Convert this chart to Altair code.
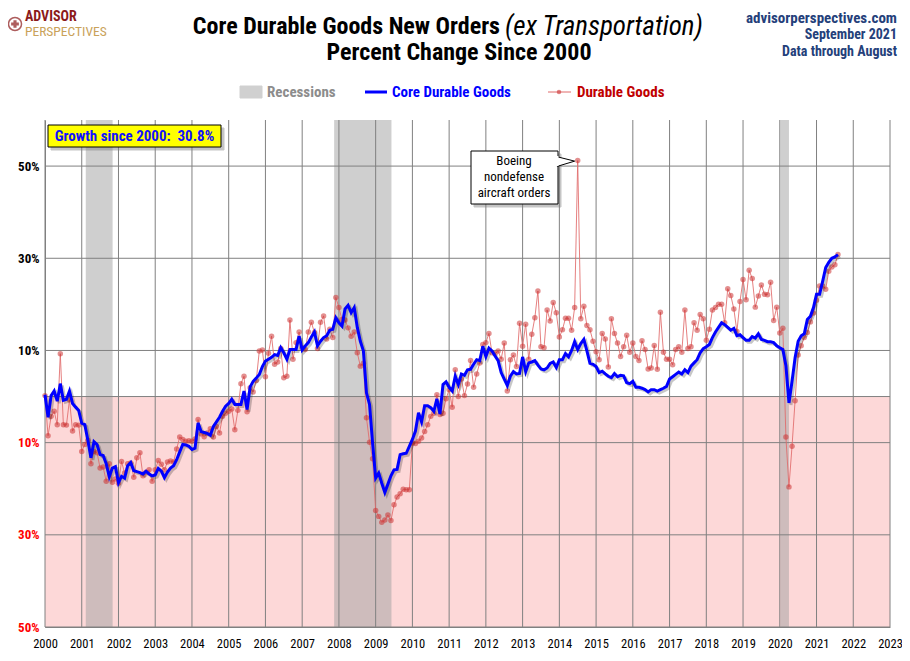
import altair as alt
import pandas as pd

# ---------------- data (percent change since Jan 2000, monthly) ----------------
core_vals = [
    0.4, -4.5, 0.2, 1.2, -1.0, 2.8, -0.8, -0.6, 1.2, -1.5, -2.3, -3.0,            # 2000
    -5.8, -6.1, -9.5, -13.3, -9.8, -10.4, -12.6, -12.8, -14.6, -17.4, -15.5, -15.2,  # 2001
    -18.7, -17.3, -17.7, -15.0, -14.3, -16.1, -16.3, -16.5, -16.8, -16.2, -16.8, -17.2,  # 2002
    -17.0, -15.6, -16.2, -17.6, -16.4, -15.5, -15.0, -13.7, -12.0, -10.4, -10.5, -10.8,  # 2003
    -11.5, -11.2, -5.7, -7.6, -7.8, -8.0, -8.4, -6.5, -5.5, -4.5, -3.2, -2.1,      # 2004
    -1.5, -0.6, -1.7, -1.7, -1.7, 1.2, -2.8, 2.1, 3.3, 4.0, 4.8, 6.5,              # 2005
    7.7, 8.1, 8.5, 9.1, 8.9, 10.6, 9.5, 8.1, 10.2, 10.2, 10.2, 13.1,               # 2006
    10.1, 11.0, 11.7, 12.9, 14.0, 11.0, 12.0, 12.8, 13.2, 14.4, 14.6, 17.1,        # 2007
    16.0, 15.3, 19.0, 19.8, 18.2, 19.3, 15.0, 12.0, 9.9, 0.8, -1.7, -10.1,         # 2008
    -17.7, -16.6, -18.8, -20.8, -19.0, -17.2, -15.9, -15.8, -12.6, -12.4, -12.3, -10.8,  # 2009
    -9.3, -7.5, -3.5, -5.5, -2.0, -2.0, -2.4, -3.2, -0.5, -3.8, 2.6, 3.2,          # 2010
    2.0, 1.2, 4.4, 2.6, 4.9, 4.6, 5.8, 5.9, 7.0, 8.0, 7.8, 10.9,                   # 2011
    8.7, 10.5, 9.9, 8.8, 7.8, 5.2, 3.8, 2.4, 4.4, 5.4, 4.9, 5.0,                   # 2012
    8.6, 5.4, 7.3, 7.5, 7.8, 6.8, 6.0, 5.8, 6.2, 7.2, 7.5, 6.3,                    # 2013
    8.0, 8.0, 9.3, 8.6, 10.0, 11.9, 10.2, 11.5, 12.4, 9.9, 7.2, 7.0,               # 2014
    6.5, 5.2, 5.5, 4.9, 4.4, 4.1, 5.0, 4.3, 4.6, 4.5, 3.0, 2.8,                    # 2015
    3.3, 2.0, 2.0, 1.8, 1.5, 1.0, 1.5, 1.5, 1.2, 1.5, 1.8, 2.2,                    # 2016
    3.8, 4.3, 4.8, 5.3, 4.9, 5.8, 5.2, 6.6, 7.3, 8.0, 9.5, 10.4,                   # 2017
    10.8, 11.3, 12.8, 14.0, 15.0, 16.0, 15.6, 15.0, 14.4, 14.8, 13.2, 13.4,        # 2018
    12.8, 12.2, 12.2, 13.0, 12.7, 13.6, 12.4, 12.2, 11.9, 11.9, 11.7, 11.0,        # 2019
    10.6, 10.2, 6.7, -1.4, 3.3, 8.4, 12.0, 13.2, 13.6, 16.7, 17.4, 19.3,           # 2020
    22.2, 22.2, 25.0, 28.0, 29.1, 30.0, 30.3, 30.8,                                # 2021 (Jan-Aug)
]

durable_vals = [
    0.2, -8.5, -4.3, -3.2, -6.1, 9.3, -6.1, -6.2, -0.7, -7.5, -6.1, -6.2,          # 2000
    -11.9, -10.4, -9.5, -14.6, -11.9, -12.2, -15.5, -15.3, -18.4, -14.6, -18.6, -17.9,  # 2001
    -18.8, -14.1, -16.6, -14.6, -14.4, -17.5, -13.3, -12.2, -17.2, -16.4, -15.9, -18.4,  # 2002
    -15.9, -13.9, -14.7, -15.9, -14.2, -14.0, -14.2, -11.4, -8.8, -9.3, -9.7, -9.6,  # 2003
    -9.7, -9.2, -5.0, -8.1, -8.7, -7.9, -7.0, -8.8, -6.5, -7.9, -4.3, -3.6,        # 2004
    -3.2, -2.7, -7.2, -3.0, 2.8, 4.4, -3.3, 1.9, 1.0, 3.5, 9.9, 10.1,              # 2005
    4.3, 9.4, 13.1, 7.0, 7.5, 10.4, 4.1, 4.4, 16.6, 8.1, 11.7, 14.0,               # 2006
    10.6, 10.2, 14.0, 16.1, 13.9, 10.4, 16.1, 17.5, 12.5, 14.6, 12.8, 21.5,        # 2007
    19.3, 16.7, 16.6, 14.9, 13.1, 14.0, 9.5, 6.6, 7.2, -4.6, -9.9, -13.5,          # 2008
    -24.7, -26.0, -27.3, -26.8, -25.7, -26.9, -23.5, -21.8, -21.1, -20.1, -20.2, -20.2,  # 2009
    -10.1, -10.2, -9.7, -9.0, -7.6, -6.1, -4.3, -3.6, 0.4, -3.9, -3.6, -0.5,       # 2010
    1.5, -2.3, 5.8, 0.0, 3.8, 0.2, 2.7, 7.8, 2.0, 4.9, 7.3, 11.3,                  # 2011
    11.7, 13.7, 9.5, 9.3, 9.9, 8.1, 11.6, 1.2, 8.0, 9.0, 6.5, 15.9,                # 2012
    10.9, 15.7, 8.1, 13.5, 17.1, 22.9, 10.8, 10.6, 18.8, 16.4, 20.4, 18.2,         # 2013
    12.9, 14.5, 17.0, 17.0, 14.4, 19.3, 51.2, 16.9, 19.6, 15.4, 14.5, 12.0,        # 2014
    9.7, 8.0, 13.7, 12.5, 6.4, 16.9, 13.7, 11.6, 8.7, 10.8, 13.3, 9.6,             # 2015
    11.6, 8.7, 7.8, 12.1, 10.2, 6.0, 6.2, 11.1, 5.9, 18.3, 9.6, 8.1,               # 2016
    8.1, 6.9, 10.2, 10.8, 9.6, 18.8, 10.4, 10.8, 16.0, 14.4, 17.8, 16.9,           # 2017
    12.2, 14.6, 18.8, 19.3, 20.0, 20.0, 16.0, 23.4, 21.9, 19.0, 14.1, 20.6,        # 2018
    25.4, 21.0, 27.4, 25.6, 19.4, 21.8, 24.2, 22.2, 22.1, 24.8, 16.5, 19.4,        # 2019
    13.8, 14.8, -8.8, -19.6, -10.8, -0.9, 9.0, 11.0, 12.8, 13.9, 16.2, 18.1,       # 2020
    20.9, 24.0, 24.0, 23.3, 27.2, 28.1, 28.6, 30.8,                                # 2021 (Jan-Aug)
]

rec_start = [2001.11, 2007.87, 2020.02]
rec_end = [2001.84, 2009.43, 2020.25]

year_ticks = list(range(2000, 2024))
pct_ticks = [-50, -30, -10, 10, 30, 50]
zero_line = [0]
y_domain = [-50, 60]
x_domain = [2000, 2023]

# ---------------- tables ----------------
n = len(core_vals)
df = pd.DataFrame({
    "t": [2000 + m / 12 for m in range(n)],
    "core": core_vals,
    "dur": durable_vals[:n],
})
rec_df = pd.DataFrame({"s": rec_start, "e": rec_end})
neg_df = pd.DataFrame({"s": [x_domain[0]], "e": [x_domain[1]], "lo": [y_domain[0]], "hi": [0]})
vgrid_df = pd.DataFrame({"yr": year_ticks})
hgrid_df = pd.DataFrame({"p": pct_ticks + zero_line})

FONT = "Liberation Sans Narrow, Roboto Condensed, Arial Narrow, Liberation Sans, sans-serif"

xs = alt.Scale(domain=x_domain, nice=False, zero=False)
ys = alt.Scale(domain=y_domain, nice=False, zero=False)
xaxis = alt.Axis(values=year_ticks, format="d", labelFlush=False, grid=False, ticks=False,
                 domainColor="#808080", labelFont=FONT, labelFontSize=12.5, labelFontWeight="normal",
                 labelColor="black", labelPadding=10, title=None, labelOverlap=False)
yaxis = alt.Axis(values=pct_ticks, labelExpr="abs(datum.value) + '%'", grid=False, ticks=False,
                 domainColor="#808080", labelFont=FONT, labelFontSize=13, labelFontWeight="bold",
                 labelColor={"condition": {"test": "datum.value < 0", "value": "#ff0000"}, "value": "black"},
                 labelPadding=6, title=None)


def X(f):
    return alt.X(f, type="quantitative", scale=xs, axis=xaxis, title=None)


def Y(f):
    return alt.Y(f, type="quantitative", scale=ys, axis=yaxis, title=None)


neg = alt.Chart(neg_df).mark_rect(color="#fdd8d8").encode(
    x=X("s"), x2="e", y=Y("lo"), y2="hi")
rec = alt.Chart(rec_df).mark_rect(color="#a0a0a0", opacity=0.5).encode(
    x=X("s"), x2="e")
vgrid = alt.Chart(vgrid_df).mark_rule(color="#808080", strokeWidth=1).encode(x=X("yr"))
hgrid = alt.Chart(hgrid_df).mark_rule(color="#808080", strokeWidth=1).encode(y=Y("p"))

dur_line = alt.Chart(df).mark_line(color="#e06a6a", strokeWidth=1, opacity=0.85).encode(
    x=X("t"), y=Y("dur"))
dur_pts = alt.Chart(df).mark_circle(color="#cc3333", size=30, opacity=0.55).encode(
    x=X("t"), y=Y("dur"))
core_shadow = alt.Chart(df).mark_line(color="black", strokeWidth=3, opacity=0.22,
                                      xOffset=2, yOffset=2).encode(x=X("t"), y=Y("core"))
core_line = alt.Chart(df).mark_line(color="#0000ff", strokeWidth=3).encode(
    x=X("t"), y=Y("core"))

one = pd.DataFrame({"k": [0]})


def txt(x, y, s, size=13, color="black", weight="normal", align="left", style="normal"):
    return alt.Chart(one).mark_text(
        text=s, font=FONT, fontSize=size, color=color, fontWeight=weight, align=align,
        baseline="middle", fontStyle=style,
    ).encode(x=alt.value(x), y=alt.value(y))


def box(x1, x2, y1, y2, fill, stroke="black", opacity=1.0, sw=1):
    return alt.Chart(one).mark_rect(fill=fill, stroke=stroke, strokeWidth=sw, opacity=opacity).encode(
        x=alt.value(x1), x2=alt.value(x2), y=alt.value(y1), y2=alt.value(y2))


# titles (plot coordinates: origin at plot top-left)
title1 = txt(455, -93, "Core Durable Goods New Orders", size=24, weight="bold", align="right")
title1b = txt(460, -93, "(ex Transportation)", size=27, style="italic", align="left")
title2 = txt(414, -67, "Percent Change Since 2000", size=24, weight="bold", align="center")

navy = "#24407a"
right1 = txt(852, -102, "advisorperspectives.com", size=15, color=navy, weight="bold", align="right")
right2 = txt(852, -85, "September 2021", size=14, color=navy, weight="bold", align="right")
right3 = txt(852, -68, "Data through August", size=14, color=navy, weight="bold", align="right")

logo_c = alt.Chart(one).mark_point(shape="circle", size=170, color="#8b1a1a", strokeWidth=1.5).encode(
    x=alt.value(-30), y=alt.value(-96))
logo_s = alt.Chart(one).mark_point(shape="cross", size=60, color="#8b1a1a", filled=True).encode(
    x=alt.value(-30), y=alt.value(-96))
logo1 = txt(-20, -103, "ADVISOR", size=14, color="#8b1a1a", weight="bold")
logo2 = txt(-20, -88.5, "PERSPECTIVES", size=13.5, color="#c9a25a")

# legend
leg_rec = box(195, 217, -34, -22, "#d0d0d0", stroke="#d0d0d0")
leg_rec_t = txt(222, -28, "Recessions", size=15, color="#8c8c8c", weight="bold")
leg_core = alt.Chart(one).mark_rule(color="#0000ff", strokeWidth=3).encode(
    x=alt.value(320), x2=alt.value(342), y=alt.value(-28))
leg_core_t = txt(347, -28, "Core Durable Goods", size=15, color="#0000ff", weight="bold")
leg_dur = alt.Chart(one).mark_rule(color="#e06a6a", strokeWidth=1).encode(
    x=alt.value(503), x2=alt.value(526), y=alt.value(-28))
leg_dur_p = alt.Chart(one).mark_circle(color="#cc3333", size=20, opacity=0.6).encode(
    x=alt.value(514), y=alt.value(-28))
leg_dur_t = txt(532, -28, "Durable Goods", size=15, color="#c00000", weight="bold")

# growth box
g_shadow = box(6, 179, 8, 30, "#808080", stroke="#808080", opacity=0.45)
g_box = box(3, 176, 5, 27, "#ffff00")
g_txt = txt(89.5, 16, "Growth since 2000:\u00a0\u00a030.8%", size=15, color="#1010ff", weight="bold",
            align="center")

# Boeing callout
b_shadow = box(429, 516, 34, 87, "#808080", stroke="#808080", opacity=0.45)
b_box = box(426, 513, 31, 84, "white")
b_ptr = alt.Chart(one).mark_point(shape="M -1 -0.6 L 1 -0.1 L -1 0.5 Z", size=300, filled=True,
                                  fill="white", stroke="black", strokeWidth=1, opacity=1).encode(
    x=alt.value(521), y=alt.value(42))
b_cover = box(509, 513.5, 36, 46, "white", stroke="white", sw=0)
b_t1 = txt(469, 41, "Boeing", size=13, align="center")
b_t2 = txt(469, 57, "nondefense", size=13, align="center")
b_t3 = txt(469, 73, "aircraft orders", size=13, align="center")

chart = alt.layer(
    neg, rec, vgrid, hgrid,
    dur_line, dur_pts, core_shadow, core_line,
    title1, title1b, title2, right1, right2, right3,
    logo_c, logo_s, logo1, logo2,
    leg_rec, leg_rec_t, leg_core, leg_core_t, leg_dur, leg_dur_p, leg_dur_t,
    g_shadow, g_box, g_txt,
    b_shadow, b_box, b_ptr, b_cover, b_t1, b_t2, b_t3,
).properties(
    width=845, height=507,
    padding={"left": 37, "top": 112, "right": 12, "bottom": 26},
    autosize=alt.AutoSizeParams(type="none"),
    background="white",
).configure_view(stroke=None)

chart.save("out.html", embed_options={"renderer": "svg", "actions": False})
